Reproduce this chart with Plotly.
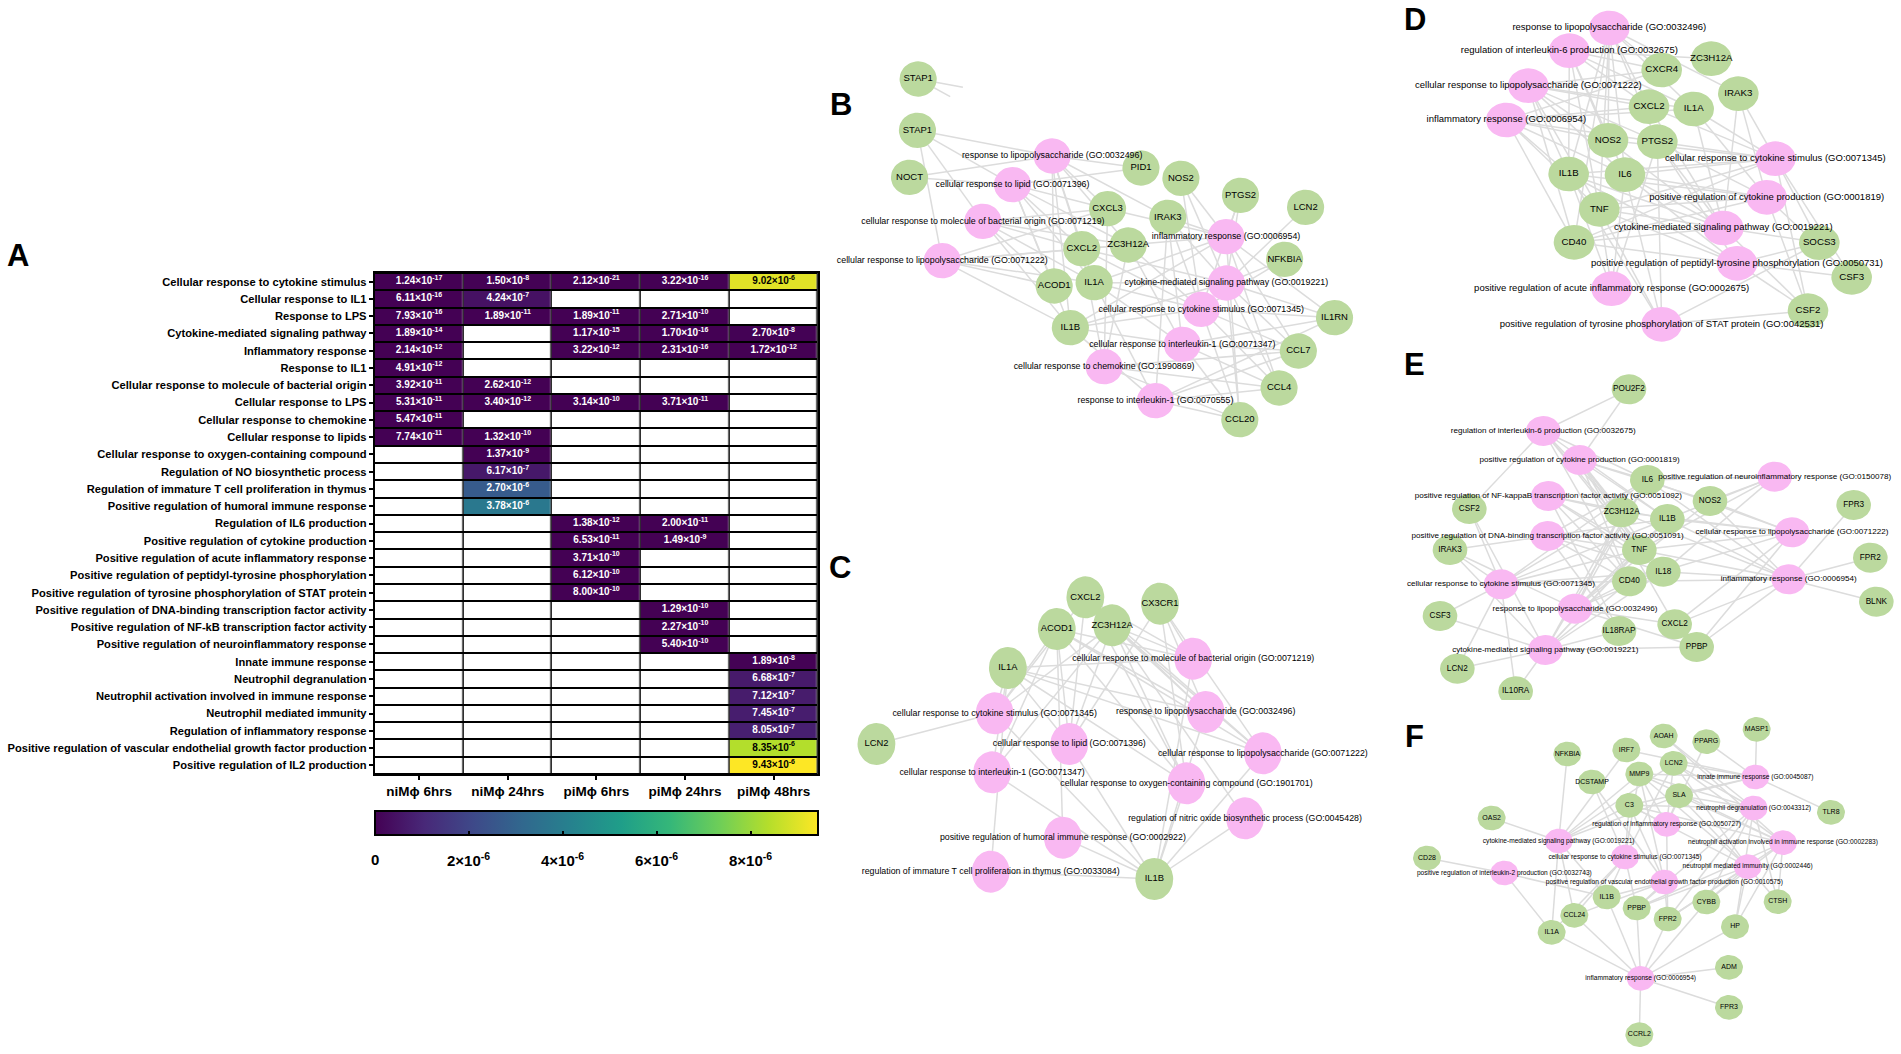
import numpy as np
import plotly.graph_objects as go

# ---------- Panel A data ----------
conditions = ["niMϕ 6hrs", "niMϕ 24hrs", "piMϕ 6hrs", "piMϕ 24hrs", "piMϕ 48hrs"]
processes = [
    "Cellular response to cytokine stimulus", "Cellular response to IL1", "Response to LPS",
    "Cytokine-mediated signaling pathway", "Inflammatory response", "Response to IL1",
    "Cellular response to molecule of bacterial origin", "Cellular response to LPS",
    "Cellular response to chemokine", "Cellular response to lipids",
    "Cellular response to oxygen-containing compound", "Regulation of NO biosynthetic process",
    "Regulation of immature T cell proliferation in thymus", "Positive regulation of humoral immune response",
    "Regulation of IL6 production", "Positive regulation of cytokine production",
    "Positive regulation of acute inflammatory response", "Positive regulation of peptidyl-tyrosine phosphorylation",
    "Positive regulation of tyrosine phosphorylation of STAT protein",
    "Positive regulation of DNA-binding transcription factor activity",
    "Positive regulation of NF-kB transcription factor activity", "Positive regulation of neuroinflammatory response",
    "Innate immune response", "Neutrophil degranulation", "Neutrophil activation involved in immune response",
    "Neutrophil mediated immunity", "Regulation of inflammatory response",
    "Positive regulation of vascular endothelial growth factor production", "Positive regulation of IL2 production",
]
pvalues = [
    ["1.24e-17", "1.50e-8", "2.12e-21", "3.22e-16", "9.02e-6"],
    ["6.11e-16", "4.24e-7", None, None, None],
    ["7.93e-16", "1.89e-11", "1.89e-11", "2.71e-10", None],
    ["1.89e-14", None, "1.17e-15", "1.70e-16", "2.70e-8"],
    ["2.14e-12", None, "3.22e-12", "2.31e-16", "1.72e-12"],
    ["4.91e-12", None, None, None, None],
    ["3.92e-11", "2.62e-12", None, None, None],
    ["5.31e-11", "3.40e-12", "3.14e-10", "3.71e-11", None],
    ["5.47e-11", None, None, None, None],
    ["7.74e-11", "1.32e-10", None, None, None],
    [None, "1.37e-9", None, None, None],
    [None, "6.17e-7", None, None, None],
    [None, "2.70e-6", None, None, None],
    [None, "3.78e-6", None, None, None],
    [None, None, "1.38e-12", "2.00e-11", None],
    [None, None, "6.53e-11", "1.49e-9", None],
    [None, None, "3.71e-10", None, None],
    [None, None, "6.12e-10", None, None],
    [None, None, "8.00e-10", None, None],
    [None, None, None, "1.29e-10", None],
    [None, None, None, "2.27e-10", None],
    [None, None, None, "5.40e-10", None],
    [None, None, None, None, "1.89e-8"],
    [None, None, None, None, "6.68e-7"],
    [None, None, None, None, "7.12e-7"],
    [None, None, None, None, "7.45e-7"],
    [None, None, None, None, "8.05e-7"],
    [None, None, None, None, "8.35e-6"],
    [None, None, None, None, "9.43e-6"],
]
colorbar_ticks = [0, 2e-6, 4e-6, 6e-6, 8e-6]
colorbar_labels = ["0", "2×10<sup>-6</sup>", "4×10<sup>-6</sup>", "6×10<sup>-6</sup>", "8×10<sup>-6</sup>"]

# ---------- Panel B network ----------
B_gene_names = ["STAP1*", "STAP1", "NOCT", "PID1", "NOS2", "PTGS2", "LCN2", "CXCL3", "IRAK3", "ZC3H12A", "CXCL2",
                "NFKBIA", "ACOD1", "IL1A", "IL1B", "IL1RN", "CCL7", "CCL4", "CCL20"]
B_gene_x = [285, 283, 260, 932, 1048, 1221, 1410, 835, 1010, 895, 760, 1349, 680, 796, 727, 1494, 1389, 1333, 1219]
B_gene_y = [87, 241, 382, 354, 385, 436, 472, 476, 502, 585, 596, 628, 708, 698, 833, 803, 903, 1014, 1109]
B_term_names = ["response to lipopolysaccharide (GO:0032496)", "cellular response to lipid (GO:0071396)",
                "cellular response to molecule of bacterial origin (GO:0071219)",
                "cellular response to lipopolysaccharide (GO:0071222)", "inflammatory response (GO:0006954)",
                "cytokine-mediated signaling pathway (GO:0019221)", "cellular response to cytokine stimulus (GO:0071345)",
                "cellular response to interleukin-1 (GO:0071347)", "cellular response to chemokine (GO:1990869)",
                "response to interleukin-1 (GO:0070555)"]
B_term_x = [674, 559, 473, 355, 1179, 1180, 1107, 1052, 825, 974]
B_term_y = [318, 404, 514, 632, 560, 699, 778, 883, 950, 1052]
B_term_genes = [
    ["STAP1", "PID1", "NOCT", "CXCL3", "IRAK3", "ACOD1", "IL1A", "CXCL2", "IL1B", "ZC3H12A"],
    ["STAP1", "NOCT", "PID1", "CXCL3", "ACOD1", "IL1A", "CXCL2", "IL1B", "ZC3H12A"],
    ["STAP1", "CXCL3", "CXCL2", "ACOD1", "IL1B", "ZC3H12A", "IL1A"],
    ["STAP1", "CXCL3", "CXCL2", "ACOD1", "IL1B", "IL1A", "ZC3H12A"],
    ["PTGS2", "NOS2", "IRAK3", "CXCL3", "CXCL2", "IL1A", "IL1B", "IL1RN", "CCL7", "CCL4", "CCL20"],
    ["LCN2", "PTGS2", "NOS2", "NFKBIA", "IL1RN", "IRAK3", "IL1A", "IL1B", "CCL7", "CCL4", "CCL20", "CXCL2"],
    ["PTGS2", "IRAK3", "NFKBIA", "IL1A", "IL1B", "IL1RN", "CCL7", "CCL4", "CCL20", "NOS2", "ZC3H12A", "CXCL2"],
    ["IRAK3", "IL1A", "IL1B", "IL1RN", "CCL7", "CCL4", "CCL20", "ZC3H12A"],
    ["CXCL3", "CXCL2", "CCL7", "CCL4", "CCL20", "ZC3H12A"],
    ["IRAK3", "IL1A", "IL1B", "IL1RN", "CCL7", "CCL4", "CCL20"],
]
B_stub_x = [415, 378]
B_stub_y = [112, 140]

# ---------- Panel C network ----------
C_gene_names = ["CXCL2", "CX3CR1", "ACOD1", "ZC3H12A", "IL1A", "LCN2", "IL1B"]
C_gene_x = [743, 952, 663, 818, 526, 158, 936]
C_gene_y = [142, 161, 237, 226, 354, 582, 987]
C_term_names = ["cellular response to molecule of bacterial origin (GO:0071219)", "response to lipopolysaccharide (GO:0032496)",
                "cellular response to cytokine stimulus (GO:0071345)", "cellular response to lipid (GO:0071396)",
                "cellular response to lipopolysaccharide (GO:0071222)", "cellular response to interleukin-1 (GO:0071347)",
                "cellular response to oxygen-containing compound (GO:1901701)", "regulation of nitric oxide biosynthetic process (GO:0045428)",
                "positive regulation of humoral immune response (GO:0002922)", "regulation of immature T cell proliferation in thymus (GO:0033084)"]
C_term_x = [1045, 1080, 489, 698, 1240, 482, 1026, 1190, 680, 478]
C_term_y = [326, 486, 490, 582, 610, 667, 700, 805, 863, 965]
C_term_genes = [
    ["CXCL2", "ACOD1", "ZC3H12A", "IL1A", "CX3CR1", "IL1B"],
    ["CXCL2", "ACOD1", "ZC3H12A", "IL1A", "CX3CR1", "IL1B"],
    ["LCN2", "CXCL2", "ACOD1", "ZC3H12A", "IL1A", "IL1B"],
    ["CXCL2", "ACOD1", "ZC3H12A", "IL1A", "IL1B", "CX3CR1"],
    ["ACOD1", "ZC3H12A", "CXCL2", "IL1A", "CX3CR1", "IL1B"],
    ["ACOD1", "IL1A", "IL1B", "ZC3H12A"],
    ["ACOD1", "IL1A", "CX3CR1", "ZC3H12A", "IL1B", "CXCL2"],
    ["ZC3H12A", "IL1B"],
    ["ACOD1", "IL1B"],
    ["IL1A", "IL1B"],
]

# ---------- Panel D network ----------
D_gene_names = ["ZC3H12A", "CXCR4", "IRAK3", "CXCL2", "IL1A", "NOS2", "PTGS2", "IL1B", "IL6", "TNF", "CD40", "SOCS3", "CSF3", "CSF2"]
D_gene_x = [994, 845, 1075, 807, 941, 684, 832, 566, 735, 658, 582, 1318, 1415, 1284]
D_gene_y = [176, 210, 281, 320, 327, 421, 425, 522, 524, 628, 727, 728, 832, 932]
D_term_names = ["response to lipopolysaccharide (GO:0032496)", "regulation of interleukin-6 production (GO:0032675)",
                "cellular response to lipopolysaccharide (GO:0071222)", "inflammatory response (GO:0006954)",
                "cellular response to cytokine stimulus (GO:0071345)", "positive regulation of cytokine production (GO:0001819)",
                "cytokine-mediated signaling pathway (GO:0019221)", "positive regulation of peptidyl-tyrosine phosphorylation (GO:0050731)",
                "positive regulation of acute inflammatory response (GO:0002675)", "positive regulation of tyrosine phosphorylation of STAT protein (GO:0042531)"]
D_term_x = [688, 568, 445, 379, 1186, 1160, 1030, 1071, 695, 845]
D_term_y = [84, 152, 257, 360, 476, 592, 684, 790, 866, 973]
D_term_genes = [
    ["CXCR4", "IRAK3", "CXCL2", "IL1A", "NOS2", "PTGS2", "IL1B", "IL6", "TNF", "CD40"],
    ["ZC3H12A", "CXCR4", "IL1A", "IL1B", "IL6", "TNF", "NOS2", "CXCL2"],
    ["CXCR4", "CXCL2", "IL1A", "NOS2", "PTGS2", "IL1B", "IL6", "TNF", "CD40"],
    ["CXCL2", "IL1A", "CXCR4", "NOS2", "PTGS2", "IL1B", "IL6", "TNF", "CD40"],
    ["IRAK3", "IL1A", "CXCL2", "PTGS2", "IL1B", "IL6", "TNF", "CD40", "SOCS3", "CSF3", "CSF2", "NOS2"],
    ["IRAK3", "IL1A", "PTGS2", "IL1B", "IL6", "TNF", "CD40", "CSF3", "CSF2"],
    ["IRAK3", "IL1A", "PTGS2", "IL1B", "IL6", "TNF", "CD40", "SOCS3", "CSF2", "CXCL2", "NOS2"],
    ["IL6", "TNF", "CD40", "SOCS3", "CSF3", "CSF2", "PTGS2", "IL1B"],
    ["IL6", "TNF", "PTGS2", "IL1B"],
    ["IL6", "TNF", "CSF2", "SOCS3", "PTGS2", "IL1B"],
]

# ---------- Panel E network ----------
E_gene_names = ["POU2F2", "IL6", "NOS2", "FPR3", "CSF2", "ZC3H12A", "IL1B", "IRAK3", "TNF", "FPR2", "IL18", "CD40", "BLNK",
                "CSF3", "CXCL2", "IL18RAP", "PPBP", "LCN2", "IL10RA"]
E_gene_x = [747, 802, 990, 1421, 268, 725, 862, 210, 778, 1471, 850, 748, 1489, 180, 884, 717, 950, 232, 407]
E_gene_y = [118, 390, 453, 465, 477, 487, 507, 600, 600, 623, 665, 694, 755, 798, 823, 843, 891, 956, 1024]
E_term_names = ["regulation of interleukin-6 production (GO:0032675)", "positive regulation of cytokine production (GO:0001819)",
                "positive regulation of neuroinflammatory response (GO:0150078)",
                "positive regulation of NF-kappaB transcription factor activity (GO:0051092)",
                "cellular response to lipopolysaccharide (GO:0071222)",
                "positive regulation of DNA-binding transcription factor activity (GO:0051091)",
                "inflammatory response (GO:0006954)", "cellular response to cytokine stimulus (GO:0071345)",
                "response to lipopolysaccharide (GO:0032496)", "cytokine-mediated signaling pathway (GO:0019221)"]
E_term_x = [490, 599, 1184, 505, 1236, 503, 1226, 363, 585, 496]
E_term_y = [243, 330, 380, 438, 547, 558, 688, 703, 776, 900]
E_term_genes = [
    ["POU2F2", "CSF2", "IL6", "ZC3H12A", "IL1B", "TNF", "IL18", "CD40"],
    ["POU2F2", "IL6", "ZC3H12A", "IL1B", "TNF", "IL18", "CD40", "NOS2", "CXCL2"],
    ["NOS2", "IL1B", "IL6", "TNF", "IL18"],
    ["IL1B", "TNF", "IL18", "ZC3H12A", "CD40", "IL18RAP"],
    ["IL6", "NOS2", "IL1B", "TNF", "CXCL2", "PPBP", "ZC3H12A", "CD40"],
    ["IRAK3", "IL1B", "TNF", "IL18", "CD40", "IL6", "IL18RAP"],
    ["IL6", "NOS2", "IL1B", "TNF", "IL18", "FPR3", "FPR2", "BLNK", "CXCL2", "PPBP", "CD40", "ZC3H12A"],
    ["CSF2", "IRAK3", "CSF3", "LCN2", "IL10RA", "IL6", "IL1B", "TNF", "IL18", "CD40", "ZC3H12A"],
    ["IRAK3", "IL6", "IL1B", "TNF", "IL18", "CD40", "CXCL2", "ZC3H12A", "NOS2", "PPBP"],
    ["CSF2", "CSF3", "IRAK3", "LCN2", "IL10RA", "IL6", "IL1B", "TNF", "IL18", "CD40", "IL18RAP", "PPBP", "ZC3H12A"],
]

# ---------- Panel F network ----------
F_gene_names = ["MASP1", "AOAH", "PPARG", "IRF7", "NFKBIA", "LCN2", "MMP9", "DCSTAMP", "SLA", "C3", "TLR8", "OAS2", "CD28",
                "CTSH", "IL1B", "CYBB", "PPBP", "CCL24", "FPR2", "HP", "IL1A", "ADM", "FPR3", "CCRL2"]
F_gene_x = [1130, 851, 979, 739, 562, 881, 778, 636, 897, 748, 1353, 335, 141, 1193, 680, 979, 770, 583, 863, 1065, 515, 1047, 1047, 778]
F_gene_y = [88, 108, 125, 150, 162, 190, 222, 246, 287, 316, 337, 354, 474, 605, 591, 606, 624, 646, 657, 680, 697, 802, 922, 1004]
F_term_names = ["innate immune response (GO:0045087)", "neutrophil degranulation (GO:0043312)",
                "regulation of inflammatory response (GO:0050727)", "neutrophil activation involved in immune response (GO:0002283)",
                "cytokine-mediated signaling pathway (GO:0019221)", "cellular response to cytokine stimulus (GO:0071345)",
                "neutrophil mediated immunity (GO:0002446)", "positive regulation of interleukin-2 production (GO:0032743)",
                "positive regulation of vascular endothelial growth factor production (GO:0010575)", "inflammatory response (GO:0006954)"]
F_term_x = [1126, 1121, 860, 1209, 536, 735, 1103, 373, 853, 782]
F_term_y = [231, 324, 373, 428, 423, 471, 500, 519, 546, 835]
F_term_genes = [
    ["MASP1", "PPARG", "LCN2", "MMP9", "SLA", "TLR8", "IRF7", "C3"],
    ["LCN2", "MMP9", "SLA", "C3", "CYBB", "HP", "CTSH", "FPR2", "PPBP", "AOAH"],
    ["C3", "MMP9", "LCN2", "SLA", "FPR2", "PPARG"],
    ["LCN2", "MMP9", "SLA", "C3", "CYBB", "HP", "CTSH", "FPR2", "PPBP", "AOAH"],
    ["NFKBIA", "OAS2", "IRF7", "MMP9", "LCN2", "SLA", "C3", "IL1B", "IL1A", "CCL24"],
    ["IL1B", "CCL24", "LCN2", "PPBP", "IL1A", "C3", "DCSTAMP", "MMP9"],
    ["LCN2", "MMP9", "SLA", "C3", "CYBB", "HP", "CTSH", "FPR2", "PPBP"],
    ["CD28", "IL1B", "IL1A"],
    ["IL1B", "CCL24", "MMP9", "C3", "DCSTAMP", "PPBP", "FPR2"],
    ["IL1B", "IL1A", "CCL24", "PPBP", "FPR2", "CYBB", "HP", "ADM", "FPR3", "CCRL2"],
]

# ---------- Styling ----------
W, H = 1901, 1054
GREEN, PINK, EDGE = "#bbd99e", "#f9b8f2", "#dcdcdc"
FONT = "Liberation Sans"
VIRIDIS = "Viridis"
ZMAX = 9.43e-6
HM_LEFT, HM_WIDTH = 374.8, 443.2

fig = go.Figure()

# ---------- Heatmap: black grid under white blanks under the coloured cells ----------
z = [[float(v) if v else None for v in row] for row in pvalues]
blank = [[0] * len(conditions) for _ in processes]
fig.add_trace(go.Heatmap(x=conditions, y=processes, z=blank, colorscale=[[0, "black"], [1, "black"]], showscale=False, hoverinfo="skip"))
fig.add_trace(go.Heatmap(x=conditions, y=processes, z=blank, colorscale=[[0, "white"], [1, "white"]], showscale=False,
                         xgap=1.5, ygap=2, hoverinfo="skip"))
fig.add_trace(go.Heatmap(
    x=conditions, y=processes, z=z, colorscale=VIRIDIS, zmin=0, zmax=ZMAX, xgap=1.5, ygap=2,
    colorbar=dict(orientation="h", x=HM_LEFT / W, xanchor="left", y=1 - 842 / H, yanchor="bottom", yref="paper", xref="paper",
                  lenmode="pixels", len=HM_WIDTH, thicknessmode="pixels", thickness=24, xpad=0, ypad=0,
                  outlinecolor="black", outlinewidth=2, ticks="inside", ticklen=5, tickwidth=1.5, tickcolor="black",
                  tickvals=colorbar_ticks, showticklabels=False),
))
tx, ty, tt, tc = [], [], [], []
for r, row in zip(processes, pvalues):
    for c, v in zip(conditions, row):
        if v:
            m, e = v.split("e")
            tx.append(c); ty.append(r); tt.append(f"{m}×10<sup>{e}</sup>")
            tc.append("black" if float(v) > 8e-6 else "white")
fig.add_trace(go.Scatter(x=tx, y=ty, text=tt, mode="text", hoverinfo="skip", showlegend=False,
                         textfont=dict(family=FONT, size=10, color=tc, weight="bold")))

# ---------- Networks ----------
def ellipse_path(xs, ys, rx, ry):
    th = np.linspace(0, 2 * np.pi, 49)
    px, py = [], []
    for x, y in zip(xs, ys):
        px += list(x + rx * np.cos(th)) + [None]
        py += list(y + ry * np.sin(th)) + [None]
    return px, py

PANELS = [
    # names, x, y, term names, x, y, links, axis no., crop box (l, t, w, h), zoom size, rx, ry, term font, gene font
    (B_gene_names, B_gene_x, B_gene_y, B_term_names, B_term_x, B_term_y, B_term_genes, 2, (820, 50, 540, 400), (1568, 1200), 54, 53, 8.85, 9.5),
    (C_gene_names, C_gene_x, C_gene_y, C_term_names, C_term_x, C_term_y, C_term_genes, 3, (820, 550, 560, 380), (1568, 1140), 53, 63, 8.8, 9.4),
    (D_gene_names, D_gene_x, D_gene_y, D_term_names, D_term_x, D_term_y, D_term_genes, 4, (1380, 0, 521, 350), (1563, 1050), 61, 52, 9.5, 9.7),
    (E_gene_names, E_gene_x, E_gene_y, E_term_names, E_term_x, E_term_y, E_term_genes, 5, (1380, 350, 521, 360), (1563, 1080), 52, 45, 8.1, 8.2),
    (F_gene_names, F_gene_x, F_gene_y, F_term_names, F_term_x, F_term_y, F_term_genes, 6, (1380, 700, 521, 354), (1563, 1062), 42, 37, 6.6, 7),
]
layout_axes = {}
for gn, gx, gy, tn, tx_, ty_, links, ax, box, zs, rx, ry, tf, gf in PANELS:
    xa, ya = f"x{ax}", f"y{ax}"
    l, t, w, h = box
    layout_axes[f"xaxis{ax}"] = dict(domain=[l / W, (l + w) / W], range=[0, zs[0]], visible=False, anchor=ya, fixedrange=True)
    layout_axes[f"yaxis{ax}"] = dict(domain=[1 - (t + h) / H, 1 - t / H], range=[zs[1], 0], visible=False, anchor=xa, fixedrange=True)
    pos = dict(zip(gn, zip(gx, gy)))
    ex, ey = [], []
    for x0, y0, genes in zip(tx_, ty_, links):
        for g in genes:
            ex += [x0, pos[g][0], None]
            ey += [y0, pos[g][1], None]
    if ax == 2:
        for x1, y1 in zip(B_stub_x, B_stub_y):
            ex += [pos["STAP1*"][0], x1, None]
            ey += [pos["STAP1*"][1], y1, None]
    fig.add_trace(go.Scatter(x=ex, y=ey, xaxis=xa, yaxis=ya, mode="lines", line=dict(color=EDGE, width=1.5), hoverinfo="skip", showlegend=False))
    for xs, ys, col in ((gx, gy, GREEN), (tx_, ty_, PINK)):
        px, py = ellipse_path(xs, ys, rx, ry)
        fig.add_trace(go.Scatter(x=px, y=py, xaxis=xa, yaxis=ya, mode="lines", fill="toself", fillcolor=col,
                                 line=dict(width=0, color=col), hoverinfo="skip", showlegend=False))
    fig.add_trace(go.Scatter(x=gx, y=gy, text=[n.rstrip("*") for n in gn], xaxis=xa, yaxis=ya, mode="text", cliponaxis=False,
                             textfont=dict(family=FONT, size=gf, color="black"), hoverinfo="skip", showlegend=False))
    fig.add_trace(go.Scatter(x=tx_, y=ty_, text=tn, xaxis=xa, yaxis=ya, mode="text", cliponaxis=False,
                             textfont=dict(family=FONT, size=tf, color="black"), hoverinfo="skip", showlegend=False))

# ---------- Panel letters and colour-bar labels ----------
LETTERS = [("A", 18, 255), ("B", 841, 105), ("C", 840, 567), ("D", 1415, 20), ("E", 1414, 364), ("F", 1414, 736)]
annotations = [dict(text=s, x=x / W, y=1 - y / H, xref="paper", yref="paper", showarrow=False, xanchor="center", yanchor="middle",
                    font=dict(family=FONT, size=31, color="black", weight="bold")) for s, x, y in LETTERS]
annotations += [dict(text=s, x=(HM_LEFT + HM_WIDTH * v / ZMAX) / W, y=1 - 859 / H, xref="paper", yref="paper", showarrow=False,
                     xanchor="center", yanchor="middle", font=dict(family=FONT, size=15, color="black", weight="bold"))
                for s, v in zip(colorbar_labels, colorbar_ticks)]

fig.update_layout(
    width=W, height=H, margin=dict(l=0, r=0, t=0, b=0), paper_bgcolor="white", plot_bgcolor="white", showlegend=False,
    annotations=annotations,
    xaxis=dict(domain=[HM_LEFT / W, (HM_LEFT + HM_WIDTH) / W], anchor="y", type="category", range=[-0.5, 4.5], side="bottom", showgrid=False,
               showline=True, linecolor="black", linewidth=2, mirror=True, ticks="outside", ticklen=4, tickwidth=2, tickcolor="black",
               tickfont=dict(family=FONT, size=13.5, color="black", weight="bold"), fixedrange=True),
    yaxis=dict(domain=[1 - 774 / H, 1 - 273 / H], anchor="x", type="category", range=[28.5, -0.5], showgrid=False,
               showline=True, linecolor="black", linewidth=2, mirror=True, ticks="outside", ticklen=4, tickwidth=2, tickcolor="black",
               tickfont=dict(family=FONT, size=11.15, color="black", weight="bold"), dtick=1, fixedrange=True),
    **layout_axes,
)

fig.write_html("out.html", config={"displayModeBar": False}, post_script="document.body.style.margin='0';document.body.style.overflow='hidden';")
